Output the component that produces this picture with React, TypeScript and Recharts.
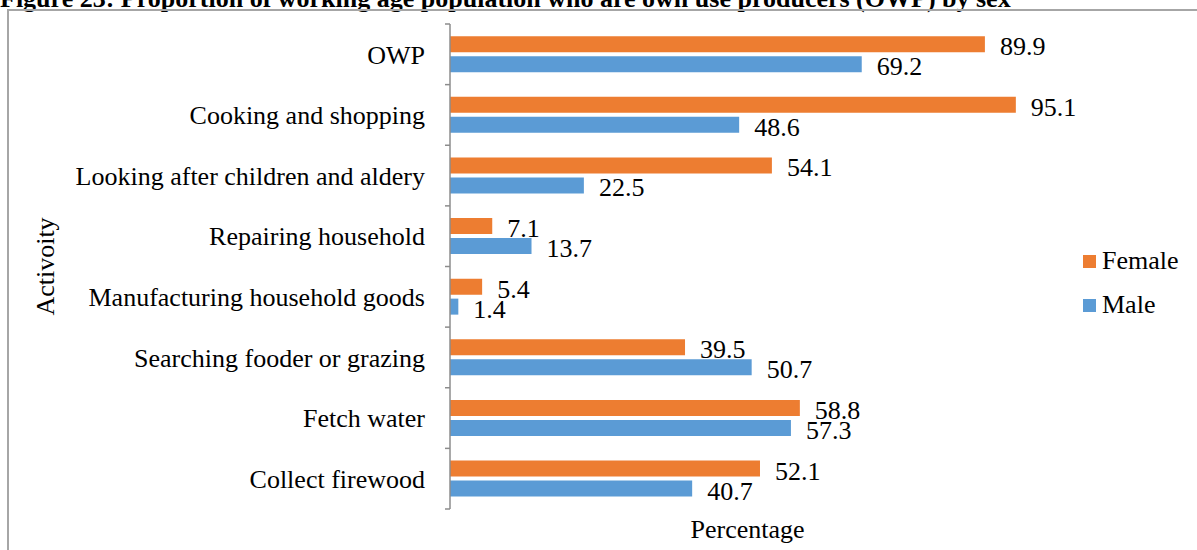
import React from 'react';
import { BarChart, Bar, XAxis, YAxis, Legend, LabelList, Label } from 'recharts';

const activities = [
  'OWP',
  'Cooking and shopping',
  'Looking after children and aldery',
  'Repairing household',
  'Manufacturing household goods',
  'Searching fooder or grazing',
  'Fetch water',
  'Collect firewood',
];
const female = [89.9, 95.1, 54.1, 7.1, 5.4, 39.5, 58.8, 52.1];
const male = [69.2, 48.6, 22.5, 13.7, 1.4, 50.7, 57.3, 40.7];

const FONT = '"Liberation Serif", "Times New Roman", serif';
const ORANGE = '#ED7D31';
const BLUE = '#5B9BD5';
const AXIS_GREY = '#8c8c8c';
const TICK_MARGIN = 25;

const data = activities.map((name, i) => ({ name, Female: female[i], Male: male[i] }));

// category label plus the small tick marks on the band edges (Excel style)
const CategoryTick = (props: any) => {
  const { x, y, payload, index, visibleTicksCount } = props;
  const half = payload && payload.offset ? payload.offset : 0;
  const axisX = x + TICK_MARGIN;
  const isLast = index === (visibleTicksCount ?? activities.length) - 1;
  return (
    <g>
      {half > 0 && (
        <line x1={axisX - 5} x2={axisX} y1={y - half} y2={y - half} stroke={AXIS_GREY} strokeWidth={1.5} />
      )}
      {half > 0 && isLast && (
        <line x1={axisX - 5} x2={axisX} y1={y + half} y2={y + half} stroke={AXIS_GREY} strokeWidth={1.5} />
      )}
      <text x={x} y={y} dy="0.355em" textAnchor="end" fontSize={26} fontFamily={FONT} fill="#000">
        {payload.value}
      </text>
    </g>
  );
};

// value label sits just past the end of each bar
const ValueLabel = (props: any) => {
  const { x, y, width, height, value } = props;
  return (
    <text
      x={x + width + 15}
      y={y + height / 2 + 11}
      fontSize={26}
      fontFamily={FONT}
      fill="#000"
    >
      {value}
    </text>
  );
};

const renderLegend = (props: any) => {
  const { payload } = props;
  return (
    <div style={{ fontFamily: FONT, fontSize: 26, color: '#000' }}>
      {payload.map((entry: any) => (
        <div key={entry.value} style={{ display: 'flex', alignItems: 'center', height: 44 }}>
          <span style={{ width: 13, height: 13, background: entry.color, marginRight: 6, display: 'inline-block' }} />
          <span>{entry.value}</span>
        </div>
      ))}
    </div>
  );
};

export default function App() {
  return (
    <div style={{ position: 'absolute', left: 0, top: 0, width: 1197, height: 550, overflow: 'hidden', background: '#fff' }}>
      <div
        style={{
          position: 'absolute',
          left: 0,
          top: -16,
          fontFamily: FONT,
          fontWeight: 'bold',
          fontSize: 26,
          whiteSpace: 'nowrap',
          color: '#000',
        }}
      >
        Figure 23: Proportion of working age population who are own use producers (OWP) by sex
      </div>
      <div
        style={{
          position: 'absolute',
          left: 7,
          top: 9,
          width: 1220,
          height: 600,
          border: '2px solid #a6a6a6',
          boxSizing: 'border-box',
        }}
      />
      <div style={{ position: 'absolute', left: 0, top: 0 }}>
        <BarChart
          width={1197}
          height={550}
          data={data}
          layout="vertical"
          margin={{ top: 24, right: 152, bottom: 0, left: 0 }}
          barCategoryGap="20%"
          barGap={4}
        >
          <YAxis
            type="category"
            dataKey="name"
            width={450}
            axisLine={{ stroke: AXIS_GREY, strokeWidth: 1.5 }}
            tickLine={false}
            tickSize={0}
            tickMargin={TICK_MARGIN}
            interval={0}
            tick={<CategoryTick />}
          >
            <Label
              value="Activoity"
              angle={-90}
              position="insideLeft"
              offset={45}
              style={{ fontSize: 26, fontFamily: FONT, fill: '#000', textAnchor: 'middle' }}
            />
          </YAxis>
          <XAxis type="number" domain={[0, 100]} height={41} axisLine={false} tickLine={false} tick={false}>
            <Label
              value="Percentage"
              position="insideBottom"
              offset={12}
              style={{ fontSize: 26, fontFamily: FONT, fill: '#000' }}
            />
          </XAxis>
          <Legend
            layout="vertical"
            align="center"
            verticalAlign="middle"
            content={renderLegend}
            wrapperStyle={{ left: 1083, top: 239, width: 110 }}
          />
          <Bar dataKey="Female" fill={ORANGE} isAnimationActive={false}>
            <LabelList dataKey="Female" content={ValueLabel} />
          </Bar>
          <Bar dataKey="Male" fill={BLUE} isAnimationActive={false}>
            <LabelList dataKey="Male" content={ValueLabel} />
          </Bar>
        </BarChart>
      </div>
    </div>
  );
}
